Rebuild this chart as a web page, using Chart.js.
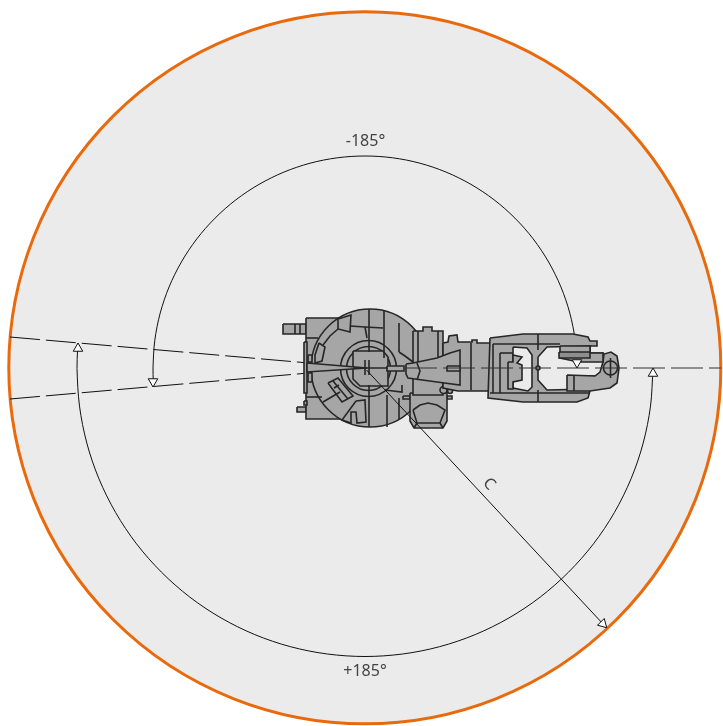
<!DOCTYPE html>
<html>
<head>
<meta charset="utf-8">
<title>Work envelope</title>
<style>
  html, body { margin: 0; padding: 0; background: #fff; }
  canvas { display: block; }
</style>
</head>
<body>
<canvas id="envelope" width="723" height="726"></canvas>
<script src="https://cdn.jsdelivr.net/npm/chart.js@4/dist/chart.umd.min.js"></script>
<script>
// Colours
const orange = '#e96a0c';
const areaGrey = '#ebebeb';
const bodyGrey = '#a6a6a6';
const ink = '#262626';

// Reach circles
const reachCircle = [{ x: 364.8, y: 367.8, r: 356 }];
const turretCircle = [{ x: 370, y: 368, r: 59 }];
const bearingRings = [{ x: 368.5, y: 368.5, r: 28 }, { x: 368.5, y: 368.5, r: 22 }];
const wristCircle = [{ x: 610.5, y: 368, r: 7 }];
const jointPin = [{ x: 538, y: 368, r: 2 }];
const motorPins = [{ x: 443.5, y: 390, r: 3.5 }, { x: 450, y: 391, r: 2.5 }];

// Rotation arcs, evenly spaced so the curve stays smooth
const innerArc = [[577,368],[575.2,340.3],[569.8,313.1],[560.9,286.9],[548.6,262],[533.2,238.9],[514.9,218.1],[494.1,199.8],[471,184.4],[446.1,172.1],[419.9,163.2],[392.7,157.8],[365,156],[337.3,157.8],[310.1,163.2],[283.9,172.1],[259,184.4],[235.9,199.8],[215.1,218.1],[196.8,238.9],[181.4,262],[169.1,286.9],[160.2,313.1],[154.8,340.3],[153,368],[153.3,381]];
const outerArc = [[653,368.5],[650.5,406.1],[643.2,443],[631.1,478.7],[614.4,512.5],[593.5,543.8],[568.6,572.1],[540.3,597],[509,617.9],[475.2,634.6],[439.5,646.7],[402.6,654],[365,656.5],[327.4,654],[290.5,646.7],[254.8,634.6],[221,617.9],[189.7,597],[161.4,572.1],[136.5,543.8],[115.6,512.5],[98.9,478.7],[86.8,443],[79.5,406.1],[77,368.5],[77.6,350]];

// Limit lines and radius leader
const limitTop = [[10,337],[366,368]];
const limitBottom = [[10,399],[366,368]];
const centreLine = [[405,368],[721,368]];
const leaderC = [[366.5,370],[604,625]];

// Arrow heads
const arrowX = [153, 78, 577, 653, 602.8];
const arrowY = [381.5, 348.5, 362.5, 373.5, 623.8];
const arrowAngle = [180, 0, 180, 0, 135];

// Labels
const labelText = ['-185°', '+185°', 'C'];
const labelX = [365.5, 365, 489];
const labelY = [141.5, 671.5, 484];
const labelAngle = [0, 0, 47];

// Robot base
const basePlate = [[306,318],[345,318],[345,419],[306,419]];
const cableTop = [[283,324],[306,324],[306,334],[283,334]];
const cableBottom = [[297,407],[306,407],[306,412],[297,412]];
const baseBar = [[304,342],[307,342],[307,393],[304,393]];
const baseTab = [[304,401],[307,401],[307,405],[304,405]];
const clampTop = [[308,355],[312,355],[312,362],[308,362]];
const clampBottom = [[308,373],[312,373],[312,382],[308,382]];

// Turret details
const sectorTop = [[338,319],[338,329],[350,332],[351,315]];
const sectorLeft = [[319,343],[325,347],[322,361],[315,363],[315,355]];
const blockLower = [[328,383],[338,378],[353,396],[342,402]];
const sectorBottom = [[356,401],[365,400],[366,422],[357,423],[356,412],[351,412],[351,423],[342,420]];
const octagon = [[353,351],[383,351],[388,357],[388,386],[360,386],[353,379]];
const spindle = [[307,363],[367,368],[307,372]];
const spindleBar = [[387,366],[404,366],[404,371],[387,371]];

// Arm, motor and forearm
const shoulderBox = [[413,331],[423,331],[423,327],[432,327],[432,331],[443,331],[443,395],[413,395]];
const rearHousing = [[443,343],[448,342],[449,336],[457,335],[458,342],[472,342],[472,340],[477,340],[477,343],[490,343],[490,391],[458,391],[443,388]];
const armLobe = [[406,364],[413,363],[437,358],[450,353],[460,350],[460,385],[437,382],[408,378],[406,374]];
const armSlot = [[447,366],[460,366],[460,371],[447,371]];
const motorBox = [[410,393],[447,393],[447,421],[443,428],[414,428],[410,421]];
const motorTabLeft = [[403,396],[410,396],[410,399],[403,399]];
const motorTabRight = [[447,396],[452,396],[452,399],[447,399]];
const motorDome = [[413,410],[420,405],[428,403],[437,405],[445,410],[440,423],[417,423]];
const forearmFrame = [[490,338],[523,334],[573,334],[588,337],[590,341],[597,341],[597,346],[590,346],[590,391],[588,398],[577,402],[523,402],[488,398]];
const windowRear = [[513,347],[527,348],[532,355],[532,387],[528,391],[513,388]];
const windowFront = [[538,357],[547,347],[590,346],[590,353],[603,353],[603,376],[590,376],[590,389],[547,390],[538,380]];
const wristBlock = [[560,346],[590,346],[590,353],[603,353],[603,362],[580,362],[574,361],[560,358]];
const wristBand = [[559,352],[590,352],[590,358],[559,358]];
const wristLower = [[567,375],[595,376],[600,372],[603,362],[604,354],[611,352],[617,356],[619,368],[617,383],[610,388],[590,391],[567,391]];
const slide = [[508,362],[513,362],[513,355],[522,357],[517,363],[522,365],[522,380],[513,382],[513,389],[508,389]];

// Loose outline strokes on the robot
const robotStrokes = [
  [[369,309],[369,338]], [[384,311],[384,358]], [[399,323],[399,352]],
  [[350,326],[365,327],[383,328]], [[365,327],[367,338]],
  [[323,345],[330,336],[338,329]], [[369,398],[369,427]], [[387,395],[387,427]],
  [[399,398],[399,419]], [[323,402],[340,392]], [[333,381],[348,399]], [[339,385],[334,388]],
  [[295,324],[295,334]], [[300,324],[300,334]], [[306,397],[322,397]], [[306,338],[318,338]],
  [[369,338],[369,352]], [[369,385],[369,398]], [[365,360],[365,375]], [[369,360],[369,375]],
  [[353,368],[388,368]], [[399,352],[405,356],[413,362]], [[385,390],[402,392],[402,385]],
  [[471,343],[471,390]], [[493,344],[560,344]], [[493,344],[493,393]], [[500,353],[500,393]],
  [[500,353],[513,353]], [[490,393],[590,393]], [[538,334],[538,350]], [[538,390],[538,402]],
  [[574,375],[574,391]], [[610.5,358],[610.5,378]],
  [[418,331],[418,362]], [[438,331],[438,358]], [[414,428],[417,423]], [[443,428],[440,423]],
  [[417,363],[420,371],[417,380]]
];

const pts = (list) => list.map(([x, y]) => ({ x, y }));

const shape = (list, color = bodyGrey, width = 1.6) => ({
  type: 'scatter',
  data: pts(list.concat([list[0]])),
  showLine: true,
  fill: 'shape',
  backgroundColor: color,
  borderColor: ink,
  borderWidth: width,
  pointRadius: 0,
  clip: false
});

const line = (list, color = '#111', width = 1, dash = [], tension = 0) => ({
  type: 'scatter',
  data: pts(list),
  showLine: true,
  fill: false,
  borderColor: color,
  borderWidth: width,
  borderDash: dash,
  tension: tension,
  pointRadius: 0,
  clip: false
});

const circle = (list, fillColor, edge = ink, width = 1.6) => ({
  type: 'bubble',
  data: list,
  backgroundColor: fillColor,
  borderColor: edge,
  borderWidth: width,
  clip: false
});

// Later entries sit on top
const layers = [
  circle(reachCircle, areaGrey, orange, 3),
  line(innerArc, '#111', 1, [], 0.33),
  line(outerArc, '#111', 1, [], 0.33),
  line(limitTop, '#111', 1, [30, 6]),
  line(limitBottom, '#111', 1, [30, 6]),
  shape(cableTop),
  shape(cableBottom),
  shape(basePlate),
  shape(baseBar),
  shape(baseTab),
  circle(turretCircle, bodyGrey),
  shape(clampTop),
  shape(clampBottom),
  shape(sectorTop),
  shape(sectorLeft),
  shape(blockLower),
  shape(sectorBottom),
  circle(bearingRings, 'rgba(0,0,0,0)'),
  shape(octagon),
  shape(spindle),
  shape(spindleBar),
  shape(motorTabLeft),
  shape(motorTabRight),
  shape(motorBox),
  shape(motorDome),
  shape(shoulderBox),
  circle(motorPins, bodyGrey),
  shape(rearHousing),
  shape(armLobe),
  shape(armSlot),
  shape(forearmFrame),
  shape(windowRear, areaGrey),
  shape(windowFront, areaGrey),
  shape(slide),
  shape(wristLower),
  shape(wristBlock),
  shape(wristBand, '#8e8e8e'),
  circle(wristCircle, bodyGrey),
  circle(jointPin, bodyGrey)
];

robotStrokes.forEach((s) => layers.push(line(s, ink, 1.6)));

layers.push(line(centreLine, '#333', 1.2, [32, 6]));
layers.push(line(leaderC, '#111', 1));
layers.push({
  type: 'scatter',
  data: arrowX.map((x, i) => ({ x, y: arrowY[i] })),
  pointStyle: 'triangle',
  pointRadius: 5.5,
  pointRotation: arrowAngle,
  pointBackgroundColor: '#fff',
  pointBorderColor: '#111',
  pointBorderWidth: 1,
  showLine: false,
  clip: false
});

layers.forEach((d, i) => { d.order = layers.length - i; });

// Draws the labels at data positions
const labelPlugin = {
  id: 'labels',
  afterDatasetsDraw(chart) {
    const { ctx, scales } = chart;
    labelText.forEach((t, i) => {
      ctx.save();
      ctx.translate(scales.x.getPixelForValue(labelX[i]), scales.y.getPixelForValue(labelY[i]));
      ctx.rotate(labelAngle[i] * Math.PI / 180);
      ctx.font = '16px "Noto Sans"';
      ctx.fillStyle = '#444';
      ctx.textAlign = 'center';
      ctx.textBaseline = 'middle';
      ctx.fillText(t, 0, 0);
      ctx.restore();
    });
  }
};

new Chart(document.getElementById('envelope').getContext('2d'), {
  type: 'scatter',
  data: { datasets: layers },
  options: {
    responsive: false,
    animation: false,
    layout: { padding: 0, autoPadding: false },
    scales: {
      x: { type: 'linear', display: false, min: 0, max: 723 },
      y: { type: 'linear', display: false, min: 0, max: 726, reverse: true }
    },
    plugins: {
      legend: { display: false },
      tooltip: { enabled: false }
    }
  },
  plugins: [labelPlugin]
});
</script>
</body>
</html>
